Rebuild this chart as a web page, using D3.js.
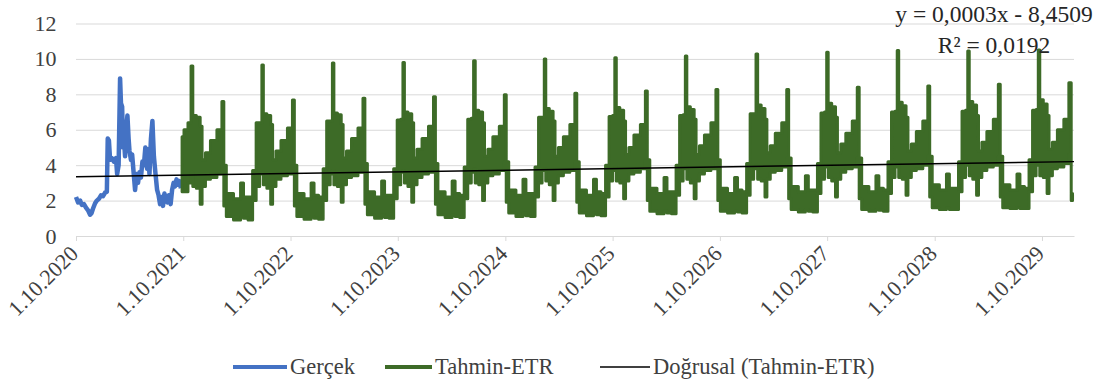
<!DOCTYPE html>
<html>
<head>
<meta charset="utf-8">
<script src="https://cdn.jsdelivr.net/npm/d3@7"></script>
<style>
  body { margin: 0; background: #fff; }
  svg text { font-family: 'Liberation Serif', 'Times New Roman', serif !important; }
</style>
</head>
<body>
<div id="chart"></div>
<script>
// x values are Excel date serials (44105 = 1.10.2020)
var gercekGun = [44105,44112,44119,44125,44132,44139,44146,44153,44158,44163,44170,44176,44183,44190,44197,44204,44210,44213,44217,44221,
  44227,44234,44241,44245,44250,44255,44258,44262,44265,44268,44272,44275,44280,44284,44287,44292,44296,44301,44306,44311,
  44316,44321,44326,44331,44336,44341,44347,44350,44355,44360,44365,44370,44375,44381,44386,44391,44396,44401,44406,44411,
  44416,44421,44427,44432,44437,44442,44447,44452,44457,44462];
var gercekDeger = [2.2,1.9,2.0,1.75,1.8,1.6,1.45,1.2,1.3,1.55,1.85,2.0,2.1,2.3,2.25,2.45,2.5,5.5,5.4,4.3,
  4.4,4.2,4.4,3.5,4.0,8.9,7.5,7.3,5.0,5.5,4.5,6.0,6.8,5.5,4.8,4.3,4.6,3.6,2.6,3.5,
  3.0,3.6,3.3,4.2,4.0,5.0,3.8,4.9,3.5,5.5,6.5,4.5,3.6,2.6,2.3,1.8,2.2,1.7,2.4,2.1,
  1.9,2.3,1.8,2.6,3.0,2.8,3.2,2.9,3.1,2.7];

// Tahmin-ETR: read as a low / high band (the daily values swing between them)
var tahminGun = [44466,44479,44493,
  44500,44505,44524,44531,44537,44554,44571,44598,44605,44611,44622,44660,44670,44680,44701,44711,44725,44735,
  44740,44745,44764,44771,44777,44794,44811,44838,44845,44851,44862,44900,44910,44920,44941,44951,44965,44975,
  44980,44985,45004,45011,45017,45034,45051,45078,45085,45091,45102,45140,45150,45160,45181,45191,45205,45215,
  45220,45225,45244,45251,45257,45274,45291,45318,45325,45331,45342,45380,45390,45400,45421,45431,45445,45455,
  45461,45466,45485,45492,45498,45515,45532,45559,45566,45572,45583,45621,45631,45641,45662,45672,45686,45696,
  45701,45706,45725,45732,45738,45755,45772,45799,45806,45812,45823,45861,45871,45881,45902,45912,45926,45936,
  45941,45946,45965,45972,45978,45995,46012,46039,46046,46052,46063,46101,46111,46121,46142,46152,46166,46176,
  46181,46186,46205,46212,46218,46235,46252,46279,46286,46292,46303,46341,46351,46361,46382,46392,46406,46416,
  46422,46427,46446,46453,46459,46476,46493,46520,46527,46533,46544,46582,46592,46602,46623,46633,46647,46657,
  46662,46667,46686,46693,46699,46716,46733,46760,46767,46773,46784,46822,46832,46842,46863,46873,46887,46897,
  46902,46907,46926,46933,46939,46956,46973,47000,47007,47013,47024,47062,47072,47082,47103,47113,47127,47137,
  47142,47147,47166,47173,47179,47196,47213,47240,47247,47253,47264,47302,47312,47322,47343,47353,47367,47377,
  47382,47387,47406,47413,47419,47436,47453,47480,47487,47496];
var tahminAlt = [2.5,2.5,3.0,
  3.6,2.8,2.7,1.8,2.8,3.2,3.3,3.5,4.0,1.7,1.1,0.9,1.1,1.0,0.9,2.0,2.8,3.5,
  3.6,2.9,2.7,1.8,2.8,3.2,3.4,3.5,4.0,1.7,1.1,0.95,1.1,1.0,0.95,2.0,2.9,3.5,
  3.7,2.9,2.8,1.9,2.9,3.3,3.4,3.6,4.1,1.8,1.2,1.0,1.2,1.05,1.0,2.1,2.9,3.6,
  3.7,3.0,2.8,1.9,2.9,3.3,3.5,3.6,4.1,1.8,1.2,1.05,1.2,1.1,1.05,2.1,3.0,3.6,
  3.8,3.0,2.9,2.0,3.0,3.4,3.5,3.7,4.2,1.9,1.3,1.1,1.3,1.15,1.1,2.2,3.0,3.7,
  3.8,3.1,2.9,2.0,3.0,3.4,3.6,3.7,4.2,1.9,1.3,1.15,1.3,1.2,1.15,2.2,3.1,3.7,
  3.9,3.1,3.0,2.1,3.1,3.5,3.6,3.8,4.3,2.0,1.4,1.25,1.4,1.3,1.25,2.3,3.1,3.8,
  3.9,3.2,3.0,2.1,3.1,3.5,3.7,3.8,4.3,2.0,1.4,1.3,1.4,1.35,1.3,2.3,3.2,3.8,
  4.0,3.2,3.1,2.2,3.2,3.6,3.7,3.9,4.4,2.1,1.5,1.35,1.5,1.4,1.35,2.4,3.2,3.9,
  4.0,3.3,3.1,2.2,3.2,3.6,3.8,3.9,4.4,2.1,1.5,1.4,1.5,1.45,1.4,2.4,3.3,3.9,
  4.1,3.3,3.2,2.3,3.3,3.7,3.8,4.0,4.5,2.2,1.6,1.5,1.6,1.5,1.5,2.5,3.3,4.0,
  4.1,3.4,3.2,2.3,3.3,3.7,3.9,4.0,4.5,2.2,1.6,1.55,1.6,1.55,1.55,2.5,3.4,4.0,
  4.2,3.4,3.3,2.4,3.4,3.8,3.9,4.1,4.6,2.0];
var tahminUst = [5.6,6.0,6.4,
  9.6,6.8,6.7,6.2,4.3,4.7,5.4,6.0,7.6,4.0,2.4,2.1,3.0,2.2,2.2,3.7,6.4,6.4,
  9.65,6.9,6.8,6.3,4.3,4.8,5.4,6.1,7.68,4.0,2.4,2.1,3.0,2.3,2.2,3.8,6.5,6.5,
  9.77,6.95,6.85,6.3,4.4,4.8,5.5,6.1,7.78,4.1,2.5,2.2,3.1,2.3,2.3,3.8,6.55,6.6,
  9.8,7.0,6.9,6.4,4.4,4.9,5.5,6.2,7.87,4.1,2.5,2.2,3.1,2.4,2.3,3.9,6.6,6.65,
  9.9,7.1,7.0,6.4,4.5,4.9,5.6,6.2,7.97,4.2,2.6,2.3,3.2,2.4,2.4,3.9,6.7,6.7,
  10.0,7.2,7.05,6.5,4.5,5.0,5.6,6.3,8.06,4.2,2.6,2.3,3.2,2.5,2.4,4.0,6.75,6.8,
  10.07,7.25,7.1,6.5,4.6,5.0,5.7,6.3,8.19,4.3,2.7,2.4,3.3,2.5,2.5,4.0,6.8,6.85,
  10.17,7.3,7.15,6.6,4.6,5.1,5.7,6.4,8.28,4.3,2.7,2.4,3.3,2.6,2.5,4.1,6.9,6.9,
  10.28,7.4,7.2,6.6,4.7,5.1,5.8,6.4,8.28,4.4,2.8,2.5,3.4,2.6,2.6,4.1,6.95,7.0,
  10.38,7.5,7.3,6.7,4.7,5.2,5.8,6.5,8.4,4.4,2.8,2.5,3.4,2.7,2.6,4.2,7.0,7.05,
  10.47,7.55,7.35,6.7,4.8,5.2,5.9,6.5,8.47,4.5,2.9,2.6,3.5,2.7,2.7,4.2,7.05,7.1,
  10.45,7.6,7.4,6.8,4.8,5.3,5.9,6.6,8.57,4.5,2.9,2.6,3.5,2.8,2.7,4.3,7.1,7.15,
  10.5,7.7,7.45,6.8,4.9,5.3,6.0,6.6,8.66,2.4];

var trendGun = [44105, 47501];
var trendDeger = [3.35, 4.2];

var yTicks = [0, 2, 4, 6, 8, 10, 12];
var xTickYears = [2020, 2021, 2022, 2023, 2024, 2025, 2026, 2027, 2028, 2029];
var seriesNames = ["Gerçek", "Tahmin-ETR", "Doğrusal (Tahmin-ETR)"];
var seriesColors = ["#4472c4", "#3d6b27", "#000000"];
var equationLines = ["y = 0,0003x - 8,4509", "R² = 0,0192"];

var width = 1104, height = 381;
var plot = {left: 76, right: 1074, top: 23.5, bottom: 236};
var serif = "'Liberation Serif', 'Times New Roman', serif";

function serialToDate(s) {
  return new Date(Date.UTC(1899, 11, 30) + s * 864e5);
}

var svg = d3.select("#chart")
  .append("svg")
    .attr("width", width)
    .attr("height", height)
    .attr("font-family", serif)
    .style("display", "block");

svg.append("rect")
    .attr("width", width)
    .attr("height", height)
    .style("fill", "#fff");

var x = d3.scaleUtc()
    .domain([serialToDate(trendGun[0]), serialToDate(trendGun[1])])
    .range([plot.left, plot.right]);

var y = d3.scaleLinear()
    .domain([0, 12])
    .range([plot.bottom, plot.top]);

// grid + y labels
var yAxis = svg.append("g")
    .attr("class", "yaxis")
    .attr("transform", "translate(" + plot.left + ",0)")
    .call(d3.axisLeft(y).tickValues(yTicks).tickSize(-(plot.right - plot.left)).tickPadding(19.5));
yAxis.attr("font-family", serif);
yAxis.select(".domain").remove();
yAxis.selectAll("line").style("stroke", "#d9d9d9").style("stroke-width", 1);
yAxis.selectAll("text")
    .style("font-size", "22px")
    .style("fill", "#404040");

// x axis
var xTicks = xTickYears.map(function(yr){ return new Date(Date.UTC(yr, 9, 1)); });
var xAxis = svg.append("g")
    .attr("class", "xaxis")
    .attr("transform", "translate(0," + plot.bottom + ")")
    .call(d3.axisBottom(x).tickValues(xTicks).tickSize(5).tickSizeOuter(0).tickFormat(d3.utcFormat("%-d.%-m.%Y")));
xAxis.attr("font-family", serif);
xAxis.select(".domain").style("stroke", "#d9d9d9");
xAxis.selectAll("line").style("stroke", "#d9d9d9");
xAxis.selectAll("text")
    .attr("x", 0)
    .attr("y", 0)
    .attr("dy", 0)
    .attr("transform", "translate(3,19) rotate(-45)")
    .style("text-anchor", "end")
    .style("font-size", "22px")
    .style("fill", "#404040");

// Gerçek
var gercek = gercekGun.map(function(g, i){ return {date: serialToDate(g), value: gercekDeger[i]}; });
svg.append("path")
    .datum(gercek)
    .attr("class", "gercek")
    .attr("d", d3.line().x(d=>x(d.date)).y(d=>y(d.value)))
    .style("fill", "none")
    .style("stroke", seriesColors[0])
    .style("stroke-width", 4.5)
    .style("stroke-linejoin", "round");

// Tahmin-ETR
var tahmin = tahminGun.map(function(g, i){ return {date: serialToDate(g), lo: tahminAlt[i], hi: tahminUst[i]}; });
svg.append("path")
    .datum(tahmin)
    .attr("class", "tahmin")
    .attr("d", d3.area().curve(d3.curveStep).x(d=>x(d.date)).y0(d=>y(d.lo)).y1(d=>y(d.hi)))
    .style("fill", seriesColors[1])
    .style("stroke", seriesColors[1])
    .style("stroke-width", 3)
    .style("stroke-linejoin", "round");

// trend line
var trend = trendGun.map(function(g, i){ return {date: serialToDate(g), value: trendDeger[i]}; });
svg.append("path")
    .datum(trend)
    .attr("class", "trend")
    .attr("d", d3.line().x(d=>x(d.date)).y(d=>y(d.value)))
    .style("fill", "none")
    .style("stroke", seriesColors[2])
    .style("stroke-width", 1.5);

// trend equation
svg.append("g")
    .attr("class", "equation")
  .selectAll("text")
    .data(equationLines).enter()
  .append("text")
    .attr("x", 994)
    .attr("y", (d,i)=>22 + i*30.5)
    .style("text-anchor", "middle")
    .style("font-size", "23.5px")
    .style("fill", "#262626")
    .text(d=>d);

// legend
var legendLayout = [{x1: 233, x2: 287, w: 4}, {x1: 385, x2: 432, w: 4}, {x1: 600, x2: 650, w: 1.5}];
var legend = svg.append("g")
    .attr("class", "legend")
  .selectAll("g")
    .data(seriesNames).enter()
  .append("g");

legend.append("line")
    .attr("x1", (d,i)=>legendLayout[i].x1)
    .attr("x2", (d,i)=>legendLayout[i].x2)
    .attr("y1", 367)
    .attr("y2", 367)
    .style("stroke", (d,i)=>seriesColors[i])
    .style("stroke-width", (d,i)=>legendLayout[i].w);

legend.append("text")
    .attr("x", (d,i)=>legendLayout[i].x2 + 3)
    .attr("y", 367)
    .attr("dy", "0.33em")
    .style("font-size", "22.5px")
    .style("fill", "#404040")
    .text(d=>d);
</script>
</body>
</html>
